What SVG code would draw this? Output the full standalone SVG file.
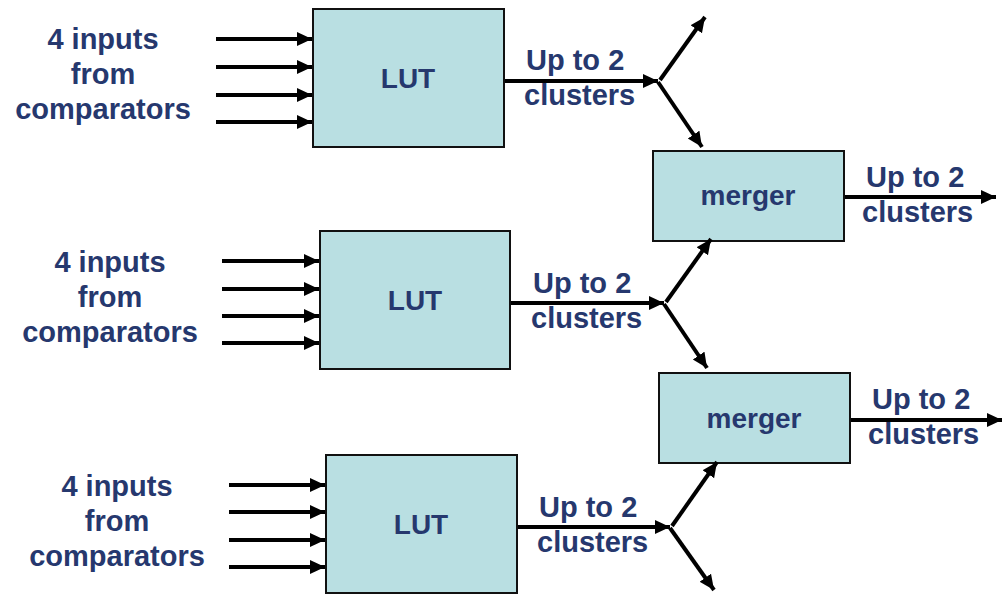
<svg xmlns="http://www.w3.org/2000/svg" width="1006" height="594" viewBox="0 0 1006 594">
  <defs>
    <marker id="head" markerUnits="userSpaceOnUse" markerWidth="16" markerHeight="16" refX="15" refY="7" orient="auto">
      <path d="M0,0 L15,7 L0,14 z" fill="#000"/>
    </marker>
    <style>
      .box { fill: #b9dfe2; stroke: #111; stroke-width: 2; }
      .lbl { font-family: "Liberation Sans", Arial, sans-serif; font-weight: bold; font-size: 29px; fill: #26386e; }
      .name { font-family: "Liberation Sans", Arial, sans-serif; font-weight: bold; font-size: 28px; fill: #26386e; text-anchor: middle; }
      .mid { text-anchor: middle; }
      .wire { stroke: #000; stroke-width: 4; fill: none; }
      .arr { stroke: #000; stroke-width: 4; fill: none; marker-end: url(#head); }
    </style>
  </defs>
  <rect width="1006" height="594" fill="#fff"/>

  <!-- input labels -->
  <g id="inputs-1">
    <text class="lbl mid" x="103" y="49">4 inputs</text>
    <text class="lbl mid" x="103" y="84">from</text>
    <text class="lbl mid" x="103" y="119">comparators</text>
  </g>
  <g id="inputs-2">
    <text class="lbl mid" x="110" y="272">4 inputs</text>
    <text class="lbl mid" x="110" y="307">from</text>
    <text class="lbl mid" x="110" y="342">comparators</text>
  </g>
  <g id="inputs-3">
    <text class="lbl mid" x="117" y="496">4 inputs</text>
    <text class="lbl mid" x="117" y="531">from</text>
    <text class="lbl mid" x="117" y="566">comparators</text>
  </g>

  <!-- lookup tables -->
  <g id="lut-1">
    <rect class="box" x="313" y="9" width="191" height="138"/>
    <text class="name" x="408" y="88">LUT</text>
  </g>
  <g id="lut-2">
    <rect class="box" x="320" y="231" width="190" height="138"/>
    <text class="name" x="415" y="310">LUT</text>
  </g>
  <g id="lut-3">
    <rect class="box" x="326" y="455" width="191" height="138"/>
    <text class="name" x="421" y="534">LUT</text>
  </g>

  <!-- mergers -->
  <g id="merger-1">
    <rect class="box" x="653" y="151" width="191" height="90"/>
    <text class="name" x="748" y="205">merger</text>
  </g>
  <g id="merger-2">
    <rect class="box" x="659" y="373" width="191" height="90"/>
    <text class="name" x="754" y="428">merger</text>
  </g>

  <!-- output labels -->
  <g id="out-labels">
    <text class="lbl" x="526" y="70">Up to 2</text>
    <text class="lbl" x="524" y="105">clusters</text>
    <text class="lbl" x="533" y="293">Up to 2</text>
    <text class="lbl" x="531" y="328">clusters</text>
    <text class="lbl" x="539" y="517">Up to 2</text>
    <text class="lbl" x="537" y="552">clusters</text>
    <text class="lbl" x="866" y="187">Up to 2</text>
    <text class="lbl" x="862" y="222">clusters</text>
    <text class="lbl" x="872" y="409">Up to 2</text>
    <text class="lbl" x="868" y="444">clusters</text>
  </g>

  <g id="connectors">
    <!-- comparator inputs -->
    <line class="arr" x1="216" y1="39" x2="312" y2="39"/>
    <line class="arr" x1="216" y1="67" x2="312" y2="67"/>
    <line class="arr" x1="216" y1="95" x2="312" y2="95"/>
    <line class="arr" x1="216" y1="122" x2="312" y2="122"/>

    <line class="arr" x1="222" y1="261" x2="319" y2="261"/>
    <line class="arr" x1="222" y1="289" x2="319" y2="289"/>
    <line class="arr" x1="222" y1="316" x2="319" y2="316"/>
    <line class="arr" x1="222" y1="343" x2="319" y2="343"/>

    <line class="arr" x1="229" y1="485" x2="325" y2="485"/>
    <line class="arr" x1="229" y1="512" x2="325" y2="512"/>
    <line class="arr" x1="229" y1="540" x2="325" y2="540"/>
    <line class="arr" x1="229" y1="567" x2="325" y2="567"/>

    <!-- LUT outputs and splits -->
    <line class="arr" x1="505" y1="81" x2="658" y2="81"/>
    <line class="arr" x1="660" y1="80" x2="705" y2="17"/>
    <line class="arr" x1="658" y1="82" x2="702" y2="147"/>

    <line class="arr" x1="511" y1="303" x2="664" y2="303"/>
    <line class="arr" x1="666" y1="302" x2="711" y2="239"/>
    <line class="arr" x1="664" y1="304" x2="707" y2="368"/>

    <line class="arr" x1="518" y1="527" x2="670" y2="527"/>
    <line class="arr" x1="672" y1="526" x2="717" y2="462"/>
    <line class="arr" x1="670" y1="528" x2="714" y2="590"/>

    <!-- merger outputs -->
    <line class="arr" x1="845" y1="197" x2="996" y2="197"/>
    <line class="arr" x1="851" y1="420" x2="1002" y2="420"/>
  </g>
</svg>
